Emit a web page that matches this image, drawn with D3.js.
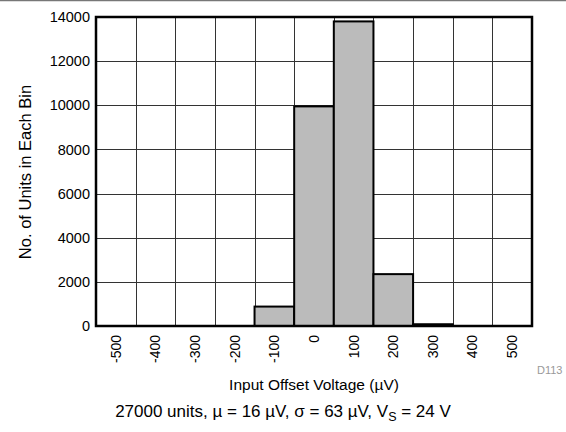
<!DOCTYPE html>
<html><head><meta charset="utf-8">
<script src="https://cdn.jsdelivr.net/npm/d3@7"></script>
<style>body{margin:0;background:#fff;} svg{display:block;font-family:"Liberation Sans",Arial,sans-serif;}</style>
</head><body>
<svg id="c" width="566" height="432"></svg>
<script>
const categories = ["-500","-400","-300","-200","-100","0","100","200","300","400","500"];
const counts = [0,0,0,0,880,9950,13800,2350,80,0,0];
const yTicks = [0,2000,4000,6000,8000,10000,12000,14000];

const svg = d3.select("#c");
const m = {l:96, r:532, t:17, b:326};
const x = d3.scaleBand().domain(categories).range([m.l, m.r]).padding(0);
const y = d3.scaleLinear().domain([0,14000]).range([m.b, m.t]);

svg.append("line").attr("x1",0).attr("x2",566).attr("y1",0.5).attr("y2",0.5).attr("stroke","#777").attr("stroke-width",1.5);

// grid
const g = svg.append("g");
g.selectAll(".hg").data(yTicks).join("line")
  .attr("x1",m.l).attr("x2",m.r).attr("y1",d=>Math.round(y(d))+0.5).attr("y2",d=>Math.round(y(d))+0.5)
  .attr("stroke","#333").attr("stroke-width",1);
g.selectAll(".vg").data(categories).join("line")
  .attr("x1",d=>Math.round(x(d))+0.5).attr("x2",d=>Math.round(x(d))+0.5).attr("y1",m.t).attr("y2",m.b)
  .attr("stroke","#333").attr("stroke-width",1);

// bars
svg.append("g").selectAll("rect").data(categories.map((c,i)=>({c,v:counts[i]}))).join("rect")
  .attr("x",d=>x(d.c)).attr("width",x.bandwidth())
  .attr("y",d=>y(d.v)).attr("height",d=>m.b-y(d.v))
  .attr("fill","#bbbbbb").attr("stroke","#000").attr("stroke-width",2);

// frame
svg.append("rect").attr("x",m.l).attr("y",m.t).attr("width",m.r-m.l).attr("height",m.b-m.t)
  .attr("fill","none").attr("stroke","#000").attr("stroke-width",2.5);

// y axis labels
const ya = svg.append("g").attr("transform",`translate(${m.l},0)`)
  .call(d3.axisLeft(y).tickValues(yTicks).tickSize(0).tickPadding(6).tickFormat(d3.format("d")));
ya.select(".domain").remove();
ya.selectAll("text").attr("font-size",14.5).attr("font-family","Liberation Sans, Arial, sans-serif").attr("fill","#000");

// x axis labels
const xa = svg.append("g").attr("transform",`translate(0,${m.b})`)
  .call(d3.axisBottom(x).tickSize(0).tickPadding(0));
xa.select(".domain").remove();
xa.selectAll("text").attr("font-size",14).attr("font-family","Liberation Sans, Arial, sans-serif").attr("fill","#000")
  .attr("text-anchor","end").attr("transform","rotate(-90)").attr("x",-9).attr("y",0).attr("dy","0.35em");

svg.append("text").attr("transform","translate(31,172) rotate(-90)").attr("text-anchor","middle")
  .attr("font-size",16.5).text("No. of Units in Each Bin");
svg.append("text").attr("x",314).attr("y",390).attr("text-anchor","middle").attr("font-size",15.5)
  .text("Input Offset Voltage (\u00b5V)");
svg.append("text").attr("x",537).attr("y",374).attr("font-size",11).attr("fill","#999").text("D113");

const cap = svg.append("text").attr("x",283).attr("y",417).attr("text-anchor","middle").attr("font-size",17);
cap.append("tspan").text("27000 units, \u00b5 = 16 \u00b5V, \u03c3 = 63 \u00b5V, V");
cap.append("tspan").attr("font-size",12.5).attr("dy",4).text("S");
cap.append("tspan").attr("dy",-4).text(" = 24 V");
</script>
</body></html>
